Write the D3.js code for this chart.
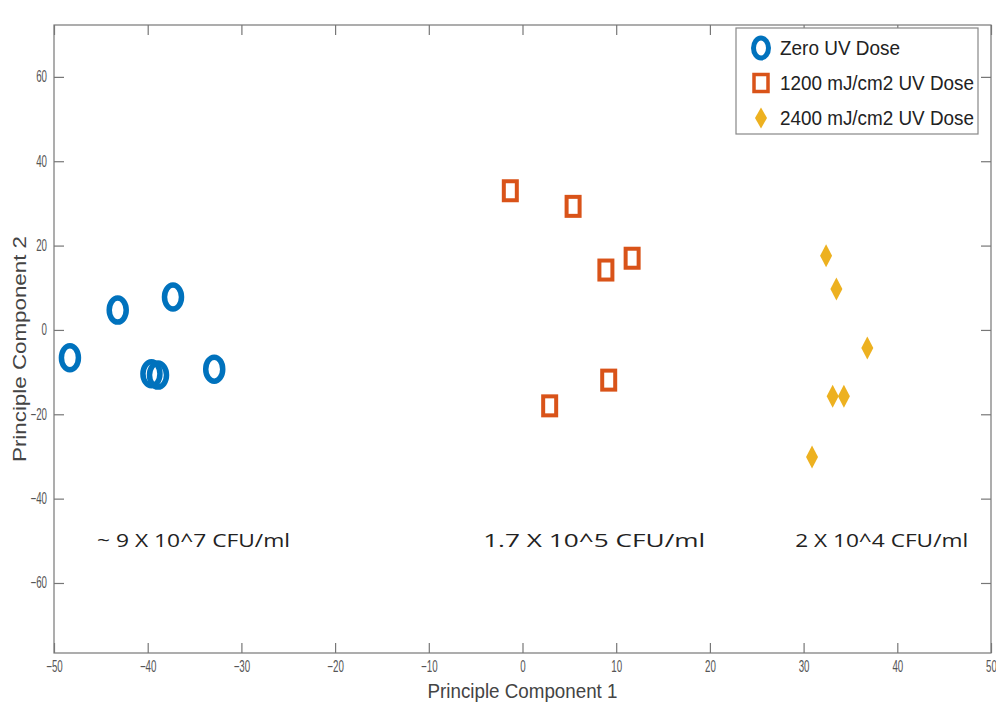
<!DOCTYPE html>
<html>
<head>
<meta charset="utf-8">
<script src="https://cdn.jsdelivr.net/npm/d3@7"></script>
<style>
  body { margin: 0; background: #fff; }
  svg { display: block; }
  .tick text { font-family: "Liberation Sans", Arial, sans-serif; fill: #555; }
</style>
</head>
<body>
<div id="chart"></div>
<script>
const width = 996, height = 708;

// data
const seriesNames = ["Zero UV Dose", "1200 mJ/cm2 UV Dose", "2400 mJ/cm2 UV Dose"];
const zeroDose = [[-48.3, -6.6], [-43.2, 4.7], [-37.3, 7.8], [-39.6, -10.4], [-38.9, -10.7], [-32.9, -9.3]];
const dose1200 = [[-1.3, 33.0], [5.4, 29.3], [11.7, 17.0], [8.9, 14.2], [9.2, -11.9], [2.9, -18.0]];
const dose2400 = [[32.4, 17.6], [33.5, 9.7], [36.8, -4.3], [33.1, -15.7], [34.3, -15.7], [30.9, -30.1]];
const xTicks = [-50, -40, -30, -20, -10, 0, 10, 20, 30, 40, 50];
const yTicks = [-60, -40, -20, 0, 20, 40, 60];
const annoLabels = ["~ 9 X 10^7 CFU/ml", "1.7 X 10^5 CFU/ml", "2 X 10^4 CFU/ml"];
const annoX = [-45.4, -4.2, 29.1];
const annoY = -49.8;

const colors = ["#0072BD", "#D95319", "#EDB120"];

const margin = {left: 54, right: 5, top: 25, bottom: 55};
const sx = 0.75, sy = 1.2; // squeezed tick font

let svg = d3.select("#chart")
  .append("svg")
  .attr("width", width)
  .attr("height", height);

let x = d3.scaleLinear().domain([-50, 50]).range([margin.left, width - margin.right]);
let y = d3.scaleLinear().domain([-76.6, 72.3]).range([height - margin.bottom, margin.top]);

// frame
svg.append("rect")
  .attr("x", x(-50)).attr("y", y(72.3))
  .attr("width", x(50) - x(-50)).attr("height", y(-76.6) - y(72.3))
  .attr("fill", "none").attr("stroke", "#777").attr("stroke-width", 1.2);

function styleAxis(g) {
  g.select(".domain").remove();
  g.selectAll(".tick line").attr("stroke", "#777").attr("stroke-width", 1.2);
}

let xAxis = svg.append("g")
  .attr("transform", "translate(0," + y(-76.6) + ")")
  .call(d3.axisBottom(x).tickValues(xTicks).tickSizeInner(-10).tickSizeOuter(0).tickPadding(10))
  .call(styleAxis);
xAxis.selectAll(".tick text").attr("font-size", 13)
  .attr("y", 8 / sy)
  .attr("transform", "scale(" + sx + "," + sy + ")");

svg.append("g")
  .attr("transform", "translate(0," + y(72.3) + ")")
  .call(d3.axisTop(x).tickValues(xTicks).tickSizeInner(-10).tickSizeOuter(0).tickFormat(""))
  .call(styleAxis);

let yAxis = svg.append("g")
  .attr("transform", "translate(" + x(-50) + ",0)")
  .call(d3.axisLeft(y).tickValues(yTicks).tickSizeInner(-10).tickSizeOuter(0).tickPadding(7))
  .call(styleAxis);
yAxis.selectAll(".tick text").attr("font-size", 13)
  .attr("x", -7 / sx)
  .attr("transform", "scale(" + sx + "," + sy + ")");

svg.append("g")
  .attr("transform", "translate(" + x(50) + ",0)")
  .call(d3.axisRight(y).tickValues(yTicks).tickSizeInner(-10).tickSizeOuter(0).tickFormat(""))
  .call(styleAxis);

// axis titles
svg.append("text")
  .attr("x", (x(-50) + x(50)) / 2).attr("y", 698)
  .attr("text-anchor", "middle")
  .attr("font-family", "Liberation Sans, Arial, sans-serif")
  .attr("font-size", 21).attr("fill", "#444")
  .attr("textLength", 190).attr("lengthAdjust", "spacingAndGlyphs")
  .text("Principle Component 1");

svg.append("text")
  .attr("transform", "translate(26,349) rotate(-90)")
  .attr("text-anchor", "middle")
  .attr("font-family", "Liberation Sans, Arial, sans-serif")
  .attr("font-size", 19).attr("fill", "#444")
  .attr("textLength", 226).attr("lengthAdjust", "spacingAndGlyphs")
  .text("Principle Component 2");

// markers
let plot = svg.append("g");

plot.selectAll("ellipse.zero")
  .data(zeroDose)
  .enter().append("ellipse")
  .attr("class", "zero")
  .attr("cx", (d) => x(d[0])).attr("cy", (d) => y(d[1]))
  .attr("rx", 8.5).attr("ry", 12)
  .attr("fill", "none").attr("stroke", colors[0]).attr("stroke-width", 5.5);

plot.selectAll("rect.d1200")
  .data(dose1200)
  .enter().append("rect")
  .attr("class", "d1200")
  .attr("x", (d) => x(d[0]) - 6.5).attr("y", (d) => y(d[1]) - 9.5)
  .attr("width", 13).attr("height", 19)
  .attr("fill", "none").attr("stroke", colors[1]).attr("stroke-width", 4);

function diamond(cx, cy, w, h) {
  return "M" + cx + "," + (cy - h / 2) + "L" + (cx + w / 2) + "," + cy +
    "L" + cx + "," + (cy + h / 2) + "L" + (cx - w / 2) + "," + cy + "Z";
}

plot.selectAll("path.d2400")
  .data(dose2400)
  .enter().append("path")
  .attr("class", "d2400")
  .attr("d", (d) => diamond(x(d[0]), y(d[1]), 12, 23))
  .attr("fill", colors[2]);

// annotations
svg.selectAll("text.anno")
  .data(annoLabels)
  .enter().append("text")
  .attr("class", "anno")
  .attr("x", (d, i) => x(annoX[i])).attr("y", y(annoY) + 7)
  .attr("font-family", "Open Sans, Noto Sans, sans-serif")
  .attr("font-size", 19).attr("fill", "#222")
  .attr("textLength", (d, i) => [193, 222, 173][i]).attr("lengthAdjust", "spacingAndGlyphs")
  .text((d) => d);

// legend
let legend = svg.append("g").attr("transform", "translate(736,28)");
legend.append("rect")
  .attr("width", 242).attr("height", 106)
  .attr("fill", "#fff").attr("stroke", "#888").attr("stroke-width", 1.2);

let rows = legend.selectAll("g.row")
  .data(seriesNames)
  .enter().append("g")
  .attr("class", "row")
  .attr("transform", (d, i) => "translate(0," + (20 + i * 35) + ")");

rows.each(function(d, i) {
  let g = d3.select(this);
  if (i === 0) {
    g.append("ellipse").attr("cx", 25).attr("cy", 0).attr("rx", 7.5).attr("ry", 10)
      .attr("fill", "none").attr("stroke", colors[0]).attr("stroke-width", 5);
  } else if (i === 1) {
    g.append("rect").attr("x", 18).attr("y", -8.5).attr("width", 14).attr("height", 17)
      .attr("fill", "none").attr("stroke", colors[1]).attr("stroke-width", 3.5);
  } else {
    g.append("path").attr("d", diamond(25, 0, 12, 21)).attr("fill", colors[2]);
  }
  g.append("text")
    .attr("x", 44).attr("y", 7)
    .attr("font-family", "Liberation Sans, Arial, sans-serif")
    .attr("font-size", 20).attr("fill", "#222")
    .attr("textLength", [120, 194, 194][i]).attr("lengthAdjust", "spacingAndGlyphs")
    .text(d);
});
</script>
</body>
</html>
